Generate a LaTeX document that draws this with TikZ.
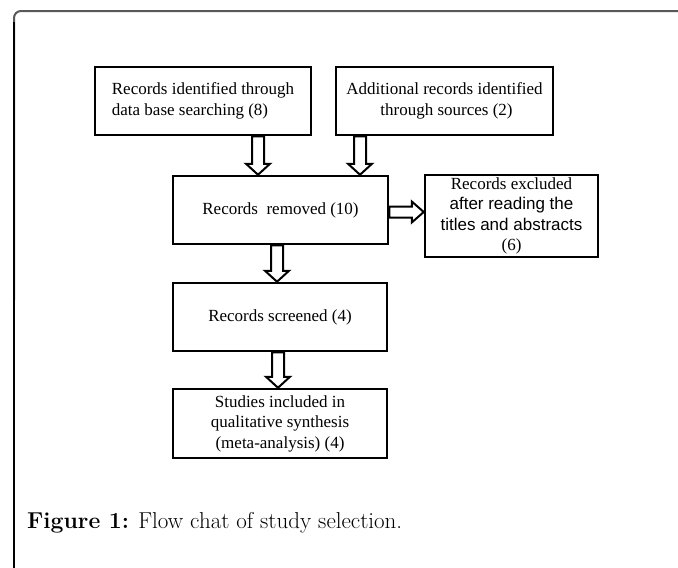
\documentclass[tikz,border=0pt]{standalone}
\usepackage{fontspec}
\newfontfamily\tnr{Liberation Serif}
\newfontfamily\arial{Liberation Sans}
\usetikzlibrary{calc}
\newcommand{\vblock}[2]{\draw[blockarrow] let \p1=#1, \p2=#2 in
  (\x1-6pt,\y1) -- (\x1+6pt,\y1) -- (\x1+6pt,\y2+11pt) -- (\x1+12pt,\y2+11pt)
  -- (\x1,\y2) -- (\x1-12pt,\y2+11pt) -- (\x1-6pt,\y2+11pt) -- cycle;}
\newcommand{\hblock}[2]{\draw[blockarrow] let \p1=#1, \p2=#2 in
  (\x1,\y1+5.5pt) -- (\x1,\y1-5.5pt) -- (\x2-12pt,\y1-5.5pt) -- (\x2-12pt,\y1-10.5pt)
  -- (\x2,\y1) -- (\x2-12pt,\y1+10.5pt) -- (\x2-12pt,\y1+5.5pt) -- cycle;}
\begin{document}
\begin{tikzpicture}[x=1pt,y=-1pt,
  box/.style={draw=black, line width=2.5pt, inner sep=0pt, align=center,
    font=\tnr\fontsize{17}{20.5}\selectfont},
  blockarrow/.style={draw=black, line width=2pt, fill=white, line join=miter}]
\useasboundingbox (0,0) rectangle (678,568);
\fill[white] (0,0) rectangle (678,568);
% frame
\draw[line width=2pt, color=black!65, rounded corners=7pt] (14,300) -- (14,11) -- (678,11);
\draw[line width=1.5pt, color=black] (14,568) -- (14,22);
% boxes
\node[box, minimum width=216pt, minimum height=68pt, align=left] (A) at (203,101)
  {Records identified through\\data base searching (8)};
\node[box, minimum width=217pt, minimum height=68pt] (B) at (444.5,101)
  {Additional records identified\\\hspace*{4pt}through sources (2)};
\node[box, minimum width=215pt, minimum height=68pt] (C) at (280.5,210)
  {Records\ \ removed (10)};
\node[box, minimum width=173pt, minimum height=82pt] (D) at (511.5,216)
  {Records excluded\\{\arial after reading the}\\{\arial titles and abstracts}\\(6)};
\node[box, minimum width=214pt, minimum height=68pt] (E) at (280,317)
  {Records screened (4)};
\node[box, minimum width=214pt, minimum height=69pt] (F) at (280,423.5)
  {Studies included in\\qualitative synthesis\\(meta-analysis) (4)};
% arrows
\vblock{([xshift=55pt]A.south)}{(C.north)}
\vblock{([xshift=-84.5pt]B.south)}{(C.north)}
\hblock{([yshift=-2pt]C.east)}{(D.west)}
\vblock{([xshift=-3.5pt]C.south)}{(E.north)}
\vblock{([xshift=-2pt]E.south)}{(F.north)}
% caption
\node[anchor=base west, inner sep=0pt, font=\fontsize{23}{27}\selectfont] (cap) at (27,528)
  {\textbf{Figure 1:} Flow chat of study selection.};
\end{tikzpicture}
\end{document}
